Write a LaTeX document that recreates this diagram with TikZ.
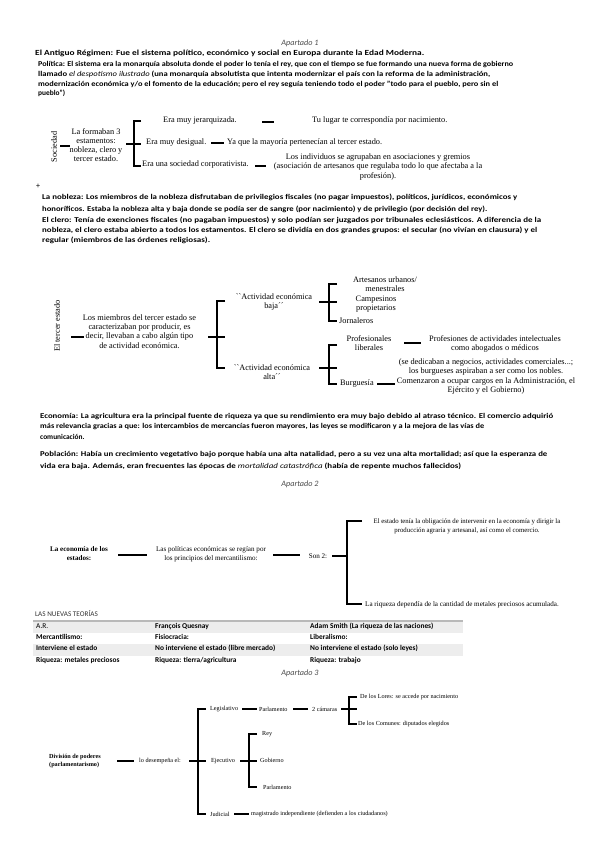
\documentclass[tikz,border=0pt]{standalone}
\usepackage{fontspec}
\setmainfont{Carlito}
\newfontfamily\dserif{Liberation Serif}
\usepackage{graphicx}
\newcommand{\fitw}[2]{\resizebox{#1pt}{\height}{#2}}
\newcommand{\segm}[4]{\coordinate (#4a) at (#1,#3); \coordinate (#4b) at (#2,#3); \draw[bar] (#4a) -- (#4b);}
\newcommand{\brkt}[5]{\coordinate (#5t) at (#4,#2); \coordinate (#5b) at (#4,#3); \coordinate (#5x) at (#1,#2); \coordinate (#5y) at (#1,#3); \draw[brk] (#5t) -- (#5x) -- (#5y) -- (#5b);}
\tikzset{
  bar/.style={line width=2.9pt},
  brk/.style={line width=2.9pt, line join=miter},
  pl/.style={anchor=west, inner sep=0pt, text height=5.3pt, text depth=1.6pt, font=\fontsize{7.4}{9}\selectfont\bfseries},
  hd/.style={inner sep=0pt, font=\fontsize{8.2}{9}\selectfont\itshape, text=black!70},
  ta/.style={inner sep=0pt, align=center, font=\dserif\fontsize{8.3}{9.2}\selectfont},
  tb/.style={inner sep=0pt, align=center, font=\dserif\fontsize{7.1}{8.8}\selectfont},
  tc/.style={inner sep=0pt, align=center, font=\dserif\fontsize{6.2}{7.8}\selectfont},
  tab/.style={anchor=west, inner sep=0pt, text height=5.3pt, text depth=1.6pt, font=\fontsize{7.4}{9}\selectfont\bfseries},
}
\begin{document}
\begin{tikzpicture}[x=1pt,y=-1pt]
\useasboundingbox (0,0) rectangle (599,848);
% ---------- headings
\node[hd] (ap1) at (300,43) {Apartado 1};
\node[hd] (ap2) at (300,484) {Apartado 2};
\node[hd] (ap3) at (300,673) {Apartado 3};
% ---------- Apartado 1 text
\node[pl, font=\fontsize{7.8}{9}\selectfont\bfseries] (p0) at (35,54) {\fitw{389}{El Antiguo Régimen: Fue el sistema político, económico y social en Europa durante la Edad Moderna.}};
\node[pl] (p1) at (38,65) {\fitw{475}{Política: El sistema era la monarquía absoluta donde el poder lo tenía el rey, que con el tiempo se fue formando una nueva forma de gobierno}};
\node[pl] (p2) at (38,75) {\fitw{452}{llamado {\mdseries\itshape el despotismo ilustrado} (una monarquía absolutista que intenta modernizar el país con la reforma de la administración,}};
\node[pl] (p3) at (38,85) {\fitw{460}{modernización económica y/o el fomento de la educación; pero el rey seguía teniendo todo el poder "todo para el pueblo, pero sin el}};
\node[pl] (p4) at (38,94) {pueblo")};
% ---------- Sociedad diagram
\node[ta, rotate=90] (soc) at (54,147) {Sociedad};
\node[ta] (form) at (96,145) {La formaban 3\\estamentos:\\nobleza, clero y\\tercer estado.};
\node[ta, anchor=west] (e1) at (163,121) {Era muy jerarquizada.};
\node[ta, anchor=west] (e1r) at (312,121) {Tu lugar te correspondía por nacimiento.};
\node[ta, anchor=west] (e2) at (146,143) {Era muy desigual.};
\node[ta, anchor=west] (e2r) at (227,143) {Ya que la mayoría pertenecían al tercer estado.};
\node[ta, anchor=west] (e3) at (142,165) {Era una sociedad corporativista.};
\node[ta] (e3r) at (378,167) {Los individuos se agrupaban en asociaciones y gremios\\(asociación de artesanos que regulaba todo lo que afectaba a la\\profesión).};
\segm{60}{70}{146}{sA}
\segm{126}{141}{144}{sB}
\brkt{134}{121}{166}{141}{bS}
\segm{262}{274}{122}{sC}
\segm{211}{224}{143}{sD}
\segm{255}{266}{166}{sE}
\node[inner sep=0pt, font=\fontsize{8}{9}\selectfont] (plus) at (38,186) {+};
% ---------- nobleza / clero
\node[pl] (n1) at (42,198) {\fitw{475}{La nobleza: Los miembros de la nobleza disfrutaban de privilegios fiscales (no pagar impuestos), políticos, jurídicos, económicos y}};
\node[pl] (n2) at (42,210) {\fitw{445}{honoríficos. Estaba la nobleza alta y baja donde se podía ser de sangre (por nacimiento) y de privilegio (por decisión del rey).}};
\node[pl] (n3) at (42,221) {\fitw{499}{El clero: Tenía de exenciones fiscales (no pagaban impuestos) y solo podían ser juzgados por tribunales eclesiásticos. A diferencia de la}};
\node[pl] (n4) at (42,231) {\fitw{495}{nobleza, el clero estaba abierto a todos los estamentos. El clero se dividía en dos grandes grupos: el secular (no vivían en clausura) y el}};
\node[pl] (n5) at (42,241) {\fitw{168}{regular (miembros de las órdenes religiosas).}};
% ---------- tercer estado diagram
\node[ta, rotate=90] (te) at (57,326) {El tercer estado};
\node[ta] (lm) at (139.5,331.5) {Los miembros del tercer estado se\\caracterizaban por producir, es\\decir, llevaban a cabo algún tipo\\de actividad económica.};
\node[ta] (ab) at (274,302) {\textasciigrave\textasciigrave Actividad económica\\baja´´};
\node[ta] (aa) at (272,372) {\textasciigrave\textasciigrave Actividad económica\\alta´´};
\node[ta] (art) at (385,284.5) {Artesanos urbanos/\\menestrales};
\node[ta] (cam) at (376,304.5) {Campesinos\\propietarios};
\node[ta, anchor=west] (jor) at (339,321) {Jornaleros};
\node[ta] (prof) at (369,343.5) {Profesionales\\liberales};
\node[ta] (pai) at (495,344) {Profesiones de actividades intelectuales\\como abogados o médicos};
\node[ta, anchor=west] (bur) at (340,384) {Burguesía};
\node[ta] (bd) at (486,376.5) {(se dedicaban a negocios, actividades comerciales...;\\los burgueses aspiraban a ser como los nobles.\\Comenzaron a ocupar cargos en la Administración, el\\Ejército y el Gobierno)};
\segm{71}{84}{337}{tA}
\segm{208}{225}{337}{tB}
\brkt{217}{301}{368}{225}{bT}
\segm{319}{337}{302}{tC}
\brkt{329}{284}{321}{337}{bU}
\segm{319}{337}{368}{tD}
\brkt{329}{345}{384}{337}{bV}
\segm{404}{421}{343}{tE}
\segm{377}{395}{384}{tF}
% ---------- economia / poblacion
\node[pl] (c1) at (40,417) {\fitw{513}{Economía: La agricultura era la principal fuente de riqueza ya que su rendimiento era muy bajo debido al atraso técnico. El comercio adquirió}};
\node[pl] (c2) at (40,427) {\fitw{444}{más relevancia gracias a que: los intercambios de mercancías fueron mayores, las leyes se modificaron y a la mejora de las vías de}};
\node[pl] (c3) at (40,438) {comunicación.};
\node[pl] (q1) at (40,455) {\fitw{507}{Población: Había un crecimiento vegetativo bajo porque había una alta natalidad, pero a su vez una alta mortalidad; así que la esperanza de}};
\node[pl] (q2) at (40,467) {\fitw{421}{vida era baja. Además, eran frecuentes las épocas de {\mdseries\itshape mortalidad catastrófica} (había de repente muchos fallecidos)}};
% ---------- Apartado 2 diagram
\node[tb, font=\dserif\bfseries\fontsize{7.1}{8.8}\selectfont] (eco) at (79,553.5) {La economía de los\\estados:};
\node[tb] (pol) at (211,554.5) {Las políticas económicas se regían por\\los principios del mercantilismo:};
\node[tb] (son) at (318,556) {Son 2:};
\node[tb, font=\dserif\fontsize{6.8}{8.8}\selectfont] (est) at (467,526.5) {El estado tenía la obligación de intervenir en la economía y dirigir la\\producción agraria y artesanal, así como el comercio.};
\node[tb, anchor=west] (riq) at (365,605) {La riqueza dependía de la cantidad de metales preciosos acumulada.};
\segm{118}{147}{555}{eA}
\segm{273}{300}{555}{eB}
\segm{332}{347}{556}{eC}
\brkt{347}{521}{604}{362}{bE}
% ---------- table
\node[anchor=west, inner sep=0pt, font=\fontsize{7.2}{9}\selectfont, text=black!80] (lnt) at (35,614) {LAS NUEVAS TEORÍAS};
\fill[gray!14] (33,621.5) rectangle (463,632.5);
\fill[gray!14] (33,643.5) rectangle (463,655.5);
\draw[gray!55, line width=1.3pt] (33,621) -- (463,621);
\node[tab, font=\fontsize{7.4}{9}\selectfont] (r1a) at (36,627) {A.R.};
\node[tab] (r1b) at (155,627) {François Quesnay};
\node[tab] (r1c) at (310,627) {Adam Smith (La riqueza de las naciones)};
\node[tab] (r2a) at (36,638) {Mercantilismo:};
\node[tab] (r2b) at (155,638) {Fisiocracia:};
\node[tab] (r2c) at (310,638) {Liberalismo:};
\node[tab] (r3a) at (36,649) {Interviene el estado};
\node[tab] (r3b) at (155,649) {No interviene el estado (libre mercado)};
\node[tab] (r3c) at (310,649) {No interviene el estado (solo leyes)};
\node[tab] (r4a) at (36,661) {Riqueza: metales preciosos};
\node[tab] (r4b) at (155,661) {Riqueza: tierra/agricultura};
\node[tab] (r4c) at (310,661) {Riqueza: trabajo};
% ---------- Apartado 3 diagram
\node[tc, anchor=west, align=left, font=\dserif\bfseries\fontsize{6.2}{7.8}\selectfont] (div) at (49,761) {División de poderes\\(parlamentarismo)};
\node[tc, anchor=west] (lde) at (139,761) {lo desempeña el:};
\node[tc, anchor=west] (leg) at (210,709) {Legislativo};
\node[tc, anchor=west] (par1) at (259,709) {Parlamento};
\node[tc, anchor=west] (dosc) at (312,709) {2 cámaras};
\node[tc, anchor=west] (lor) at (360,697) {De los Lores: se accede por nacimiento};
\node[tc, anchor=west] (com) at (358,724) {De los Comunes: diputados elegidos};
\node[tc, anchor=west] (eje) at (211,761) {Ejecutivo};
\node[tc, anchor=west] (rey) at (262,734) {Rey};
\node[tc, anchor=west] (gob) at (260,760) {Gobierno};
\node[tc, anchor=west] (par2) at (263,787) {Parlamento};
\node[tc, anchor=west] (jud) at (210,814) {Judicial};
\node[tc, anchor=west] (mag) at (251,814) {magistrado independiente (defienden a los ciudadanos)};
\segm{117}{134}{761}{aA}
\segm{189}{206}{761}{aB}
\brkt{198}{709}{814}{206}{bA}
\segm{242}{257}{709}{aC}
\segm{293}{308}{709}{aD}
\segm{341}{357}{709}{aE}
\brkt{349}{697}{724}{357}{bB}
\segm{240}{257}{761}{aF}
\brkt{249}{734}{787}{257}{bC}
\segm{234}{249}{814}{aG}
\end{tikzpicture}
\end{document}
